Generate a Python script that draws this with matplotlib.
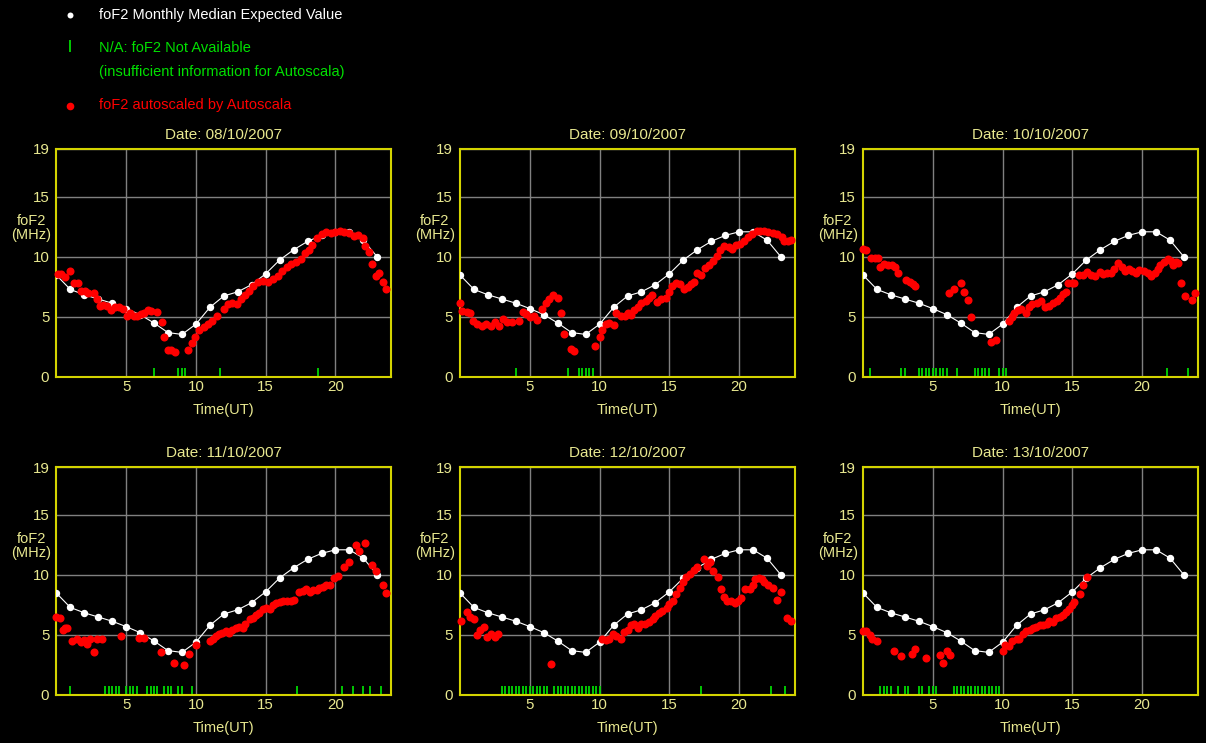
import matplotlib.pyplot as plt

plt.rcParams['font.family'] = ['Liberation Sans', 'DejaVu Sans']

# monthly median foF2 (hourly)
median_hours = list(range(24))
median_fof2 = [8.5, 7.3, 6.85, 6.5, 6.15, 5.7, 5.2, 4.5, 3.7, 3.55, 4.4, 5.8,
               6.75, 7.1, 7.7, 8.6, 9.75, 10.6, 11.3, 11.8, 12.1, 12.1, 11.4, 10.0]

dates = ['08/10/2007', '09/10/2007', '10/10/2007',
         '11/10/2007', '12/10/2007', '13/10/2007']

# autoscaled foF2 per day: time (UT hours) and value (MHz)
t_0810 = [0.1, 0.35, 0.6, 1.0, 1.3, 1.55, 1.8, 2.05, 2.3, 2.7,
          2.9, 3.1, 3.35, 3.65, 3.95, 4.2, 4.5, 4.8, 5.05, 5.3,
          5.55, 5.8, 6.05, 6.3, 6.55, 6.75, 7.2, 7.55, 7.7, 8.0,
          8.25, 8.5, 9.45, 9.7, 9.95, 10.2, 10.55, 10.85, 11.15, 11.5,
          12.0, 12.3, 12.6, 12.95, 13.2, 13.5, 13.8, 14.1, 14.45, 14.8,
          15.15, 15.5, 15.85, 16.2, 16.5, 16.85, 17.2, 17.55, 17.85, 18.1,
          18.35, 18.7, 19.0, 19.3, 19.65, 20.0, 20.3, 20.6, 20.95, 21.3,
          21.65, 22.0, 22.15, 22.4, 22.65, 22.9, 23.1, 23.4, 23.65]
f_0810 = [8.55, 8.55, 8.3, 8.8, 7.85, 7.85, 7.2, 7.15, 7.0, 7.0,
          6.5, 5.95, 6.0, 5.95, 5.6, 5.8, 5.8, 5.7, 5.1, 5.3,
          5.1, 5.1, 5.25, 5.3, 5.6, 5.5, 5.4, 4.6, 3.35, 2.25,
          2.25, 2.07, 2.25, 2.8, 3.35, 3.95, 4.2, 4.4, 4.7, 5.1,
          5.65, 6.1, 6.2, 6.1, 6.5, 6.8, 7.2, 7.6, 7.9, 8.0,
          7.95, 8.2, 8.45, 8.8, 9.2, 9.4, 9.6, 9.85, 10.3, 10.6,
          11.0, 11.55, 11.9, 12.05, 12.0, 12.1, 12.15, 12.1, 12.0, 11.75,
          11.8, 11.6, 10.9, 10.4, 9.4, 8.45, 8.65, 7.9, 7.35]

t_0910 = [0.0, 0.15, 0.5, 0.75, 0.95, 1.25, 1.55, 1.85, 2.2, 2.5,
          2.8, 3.1, 3.4, 3.75, 4.2, 4.5, 4.75, 5.05, 5.3, 5.55,
          5.85, 6.15, 6.4, 6.65, 7.0, 7.25, 7.45, 7.95, 8.2, 9.7,
          10.0, 10.2, 10.45, 10.7, 11.05, 11.2, 11.5, 11.8, 12.0, 12.25,
          12.5, 12.75, 13.0, 13.3, 13.55, 13.75, 14.1, 14.4, 14.75, 15.0,
          15.2, 15.45, 15.75, 16.05, 16.3, 16.55, 16.75, 16.95, 17.25, 17.55,
          17.85, 18.15, 18.4, 18.65, 18.9, 19.3, 19.5, 19.75, 20.05, 20.35,
          20.65, 20.95, 21.25, 21.5, 21.8, 22.1, 22.4, 22.7, 23.05, 23.2,
          23.5, 23.7]
f_0910 = [6.2, 5.5, 5.45, 5.3, 4.7, 4.4, 4.25, 4.45, 4.25, 4.55,
          4.25, 4.8, 4.6, 4.6, 4.7, 5.4, 5.25, 5.0, 5.1, 4.75,
          5.65, 6.2, 6.5, 6.8, 6.55, 5.35, 3.6, 2.3, 2.2, 2.55,
          3.35, 3.95, 4.4, 4.5, 4.3, 5.3, 5.1, 5.1, 5.35, 5.15,
          5.6, 5.8, 6.2, 6.35, 6.6, 6.8, 6.25, 6.5, 6.6, 7.1,
          7.55, 7.8, 7.75, 7.3, 7.5, 7.75, 7.9, 8.7, 8.5, 9.1,
          9.3, 9.7, 10.1, 10.6, 10.95, 10.85, 10.7, 11.0, 11.1, 11.3,
          11.65, 11.95, 12.15, 12.2, 12.15, 12.1, 12.0, 11.95, 11.7, 11.3,
          11.3, 11.45]

t_1010 = [0.0, 0.25, 0.6, 0.85, 1.1, 1.2, 1.5, 1.8, 2.1, 2.3,
          2.5, 3.1, 3.35, 3.55, 3.7, 6.15, 6.5, 7.0, 7.2, 7.5,
          7.75, 9.2, 9.55, 10.45, 10.65, 10.85, 11.1, 11.35, 11.65, 11.9,
          12.1, 12.5, 12.75, 13.05, 13.35, 13.6, 13.9, 14.1, 14.35, 14.55,
          14.7, 14.95, 15.1, 15.5, 15.75, 16.05, 16.3, 16.6, 16.95, 17.2,
          17.5, 17.75, 18.0, 18.3, 18.55, 18.8, 19.05, 19.3, 19.55, 19.8,
          20.1, 20.4, 20.65, 20.9, 21.1, 21.3, 21.55, 21.85, 22.05, 22.2,
          22.45, 22.6, 22.75, 23.05, 23.55, 23.75]
f_1010 = [10.7, 10.6, 9.9, 9.9, 9.9, 9.2, 9.4, 9.35, 9.3, 9.15,
          8.7, 8.1, 7.95, 7.75, 7.55, 7.0, 7.3, 7.8, 7.1, 6.4,
          5.0, 2.95, 3.1, 4.65, 5.0, 5.35, 5.6, 5.65, 5.35, 5.8,
          6.05, 6.2, 6.35, 5.8, 5.9, 6.2, 6.35, 6.6, 6.9, 7.1,
          7.8, 7.8, 7.8, 8.5, 8.5, 8.75, 8.5, 8.45, 8.75, 8.6,
          8.65, 8.65, 9.0, 9.5, 9.2, 8.85, 9.0, 8.85, 8.7, 8.95,
          8.85, 8.65, 8.45, 8.7, 9.0, 9.3, 9.55, 9.85, 9.7, 9.3,
          9.55, 9.5, 7.8, 6.75, 6.4, 7.0]

t_1110 = [0.0, 0.25, 0.45, 0.65, 0.8, 1.15, 1.5, 1.75, 2.0, 2.2,
          2.45, 2.7, 2.9, 3.25, 4.65, 5.95, 6.25, 7.5, 8.45, 9.15,
          9.5, 10.0, 11.0, 11.2, 11.45, 11.65, 11.9, 12.15, 12.4, 12.6,
          12.9, 13.1, 13.35, 13.55, 13.85, 14.1, 14.3, 14.55, 14.8, 15.0,
          15.3, 15.5, 15.75, 16.0, 16.25, 16.5, 16.8, 17.0, 17.4, 17.65,
          17.9, 18.15, 18.4, 18.65, 18.85, 19.1, 19.35, 19.6, 19.9, 20.15,
          20.6, 20.95, 21.45, 21.7, 22.15, 22.65, 22.9, 23.4, 23.65]
f_1110 = [6.5, 6.4, 5.4, 5.55, 5.6, 4.5, 4.65, 4.4, 4.55, 4.25,
          4.7, 3.6, 4.65, 4.65, 4.95, 4.75, 4.75, 3.6, 2.65, 2.5,
          3.45, 4.15, 4.5, 4.7, 4.9, 5.05, 5.15, 5.35, 5.15, 5.4,
          5.55, 5.65, 5.6, 5.95, 6.35, 6.4, 6.65, 6.85, 7.15, 7.25,
          7.15, 7.5, 7.7, 7.75, 7.8, 7.8, 7.8, 7.95, 8.6, 8.65,
          8.8, 8.55, 8.75, 8.75, 8.9, 9.0, 9.2, 9.15, 9.75, 9.9,
          10.65, 11.1, 12.5, 12.0, 12.65, 10.85, 10.3, 9.2, 8.5]

t_1210 = [0.1, 0.5, 0.7, 1.0, 1.2, 1.45, 1.7, 1.95, 2.2, 2.5,
          2.75, 6.5, 10.2, 10.45, 10.65, 10.95, 11.2, 11.5, 11.75, 12.0,
          12.25, 12.5, 12.75, 13.0, 13.25, 13.55, 13.8, 14.0, 14.25, 14.5,
          14.8, 15.0, 15.25, 15.5, 15.75, 16.0, 16.2, 16.5, 16.75, 17.0,
          17.45, 17.7, 17.9, 18.15, 18.45, 18.7, 18.9, 19.15, 19.45, 19.7,
          19.9, 20.15, 20.45, 20.75, 21.0, 21.15, 21.4, 21.6, 21.8, 22.05,
          22.45, 22.7, 23.0, 23.4, 23.7]
f_1210 = [6.15, 6.9, 6.5, 6.3, 5.0, 5.45, 5.65, 4.8, 5.05, 4.8,
          5.05, 2.55, 4.65, 4.55, 4.65, 5.1, 4.9, 4.65, 5.25, 5.45,
          5.8, 5.95, 5.6, 5.95, 5.95, 6.1, 6.3, 6.55, 6.8, 7.0,
          7.25, 7.55, 7.85, 8.45, 8.9, 9.4, 9.8, 10.05, 10.4, 10.65,
          11.3, 10.75, 11.1, 10.35, 9.8, 8.85, 8.2, 7.85, 7.85, 7.7,
          7.85, 8.05, 8.85, 8.85, 9.15, 9.7, 9.75, 9.65, 9.45, 9.2,
          8.95, 7.9, 8.6, 6.4, 6.15]

t_1310 = [0.0, 0.25, 0.5, 0.65, 1.0, 2.25, 2.7, 3.5, 3.7, 4.5,
          5.5, 5.7, 6.0, 6.25, 10.0, 10.2, 10.45, 10.7, 11.0, 11.2,
          11.45, 11.7, 11.95, 12.15, 12.4, 12.65, 12.9, 13.15, 13.35, 13.6,
          13.85, 14.1, 14.35, 14.55, 14.75, 14.95, 15.15, 15.55, 15.75, 16.05]
f_1310 = [5.35, 5.3, 5.0, 4.65, 4.5, 3.65, 3.25, 3.45, 3.85, 3.05,
          3.35, 2.65, 3.65, 3.35, 3.7, 4.15, 4.1, 4.5, 4.65, 4.65,
          5.05, 5.3, 5.4, 5.6, 5.65, 5.85, 5.85, 5.95, 6.15, 6.1,
          6.4, 6.5, 6.65, 6.9, 7.2, 7.5, 7.75, 8.45, 9.15, 9.85]

# times with foF2 not available
na_0810 = [0.0, 7.0, 8.75, 9.0, 9.25, 11.75, 18.75]
na_0910 = [4.0, 7.75, 8.5, 8.75, 9.0, 9.25, 9.5]
na_1010 = [0.5, 2.75, 3.0, 4.0, 4.25, 4.5, 4.75, 5.0, 5.25, 5.5, 5.75, 6.0,
           6.75, 8.0, 8.25, 8.5, 8.75, 9.0, 9.75, 10.0, 10.25, 21.75, 23.25]
na_1110 = [1.0, 3.5, 3.75, 4.0, 4.25, 4.5, 5.0, 5.25, 5.5, 5.75, 6.5, 6.75,
           7.0, 7.25, 7.75, 8.0, 8.25, 8.75, 9.0, 9.75, 17.25, 20.5, 21.25,
           22.0, 22.5, 23.25]
na_1210 = [0.0, 3.0, 3.25, 3.5, 3.75, 4.0, 4.25, 4.5, 4.75, 5.0, 5.25, 5.5,
           5.75, 6.0, 6.25, 6.75, 7.0, 7.25, 7.5, 7.75, 8.0, 8.25, 8.5, 8.75,
           9.0, 9.25, 9.5, 9.75, 10.0, 17.25, 22.25, 23.25]
na_1310 = [1.25, 1.5, 1.75, 2.0, 2.5, 3.0, 3.25, 4.0, 4.25, 4.75, 5.0, 5.25,
           6.5, 6.75, 7.0, 7.25, 7.5, 7.75, 8.0, 8.25, 8.5, 8.75, 9.0, 9.25,
           9.5, 9.75]

days = [(t_0810, f_0810, na_0810), (t_0910, f_0910, na_0910),
        (t_1010, f_1010, na_1010), (t_1110, f_1110, na_1110),
        (t_1210, f_1210, na_1210), (t_1310, f_1310, na_1310)]

label_color = '#e8e890'
frame_color = '#d4d400'
grid_color = '#808080'
na_color = '#00d800'

W, H = 1206, 743
fig = plt.figure(figsize=(W / 100, H / 100), dpi=100, facecolor='black')

col_left = [56.3, 460, 863]
row_top = [149, 467]
ax_w, ax_h = 335, 228

for i, (date, (t, f, na)) in enumerate(zip(dates, days)):
    left = col_left[i % 3]
    top = row_top[i // 3]
    ax = fig.add_axes([left / W, 1 - (top + ax_h) / H, ax_w / W, ax_h / H])
    ax.set_facecolor('black')
    ax.set_xlim(0, 24)
    ax.set_ylim(0, 19)
    ax.set_xticks([5, 10, 15, 20])
    ax.set_yticks([0, 5, 10, 15, 19])
    ax.tick_params(length=0, colors=label_color, labelsize=10.8)
    ax.tick_params(axis='y', pad=5)
    ax.tick_params(axis='x', pad=2)
    ax.set_axisbelow(True)
    ax.grid(color=grid_color, lw=1)
    for sp in ax.spines.values():
        sp.set_color(frame_color)
        sp.set_linewidth(1.5)

    ax.vlines(na, 0, 0.75, colors=na_color, lw=1.3, zorder=2)
    ax.plot(median_hours, median_fof2, color='white', lw=0.8, marker='o',
            ms=4.3, mec='white', mfc='white', zorder=3)
    ax.plot(t, f, 'o', color='red', ms=5.8, mec='none', zorder=4, clip_on=False)

    ax.text(0.5, 1 + 14 / ax_h, f'Date: {date}', transform=ax.transAxes,
            ha='center', va='center', color=label_color, fontsize=11)
    ax.text(-25 / ax_w, 149 / ax_h, 'foF2\n(MHz)', transform=ax.transAxes,
            ha='center', va='center', color=label_color, fontsize=10.5,
            linespacing=1.05)
    ax.text(0.5, -33 / ax_h, 'Time(UT)', transform=ax.transAxes,
            ha='center', va='center', color=label_color, fontsize=10.5)

# key at the top left, in pixel coordinates
lg = fig.add_axes([0, 0, 1, 1])
lg.set_xlim(0, W)
lg.set_ylim(H, 0)
lg.axis('off')
lg.plot(70, 15, 'o', color='white', ms=4.3, mec='none')
lg.vlines(70, 40, 52, colors=na_color, lw=1.3)
lg.plot(70, 106, 'o', color='red', ms=5.5, mec='none')
lg.text(99, 15, 'foF2 Monthly Median Expected Value', color='white',
        fontsize=10.5, va='center')
lg.text(99, 48, 'N/A: foF2 Not Available', color='#00e000',
        fontsize=10.5, va='center')
lg.text(99, 72, '(insufficient information for Autoscala)', color='#00e000',
        fontsize=10.5, va='center')
lg.text(99, 105, 'foF2 autoscaled by Autoscala', color='red',
        fontsize=10.5, va='center')

fig.savefig('out.png', dpi=100, facecolor='black')
